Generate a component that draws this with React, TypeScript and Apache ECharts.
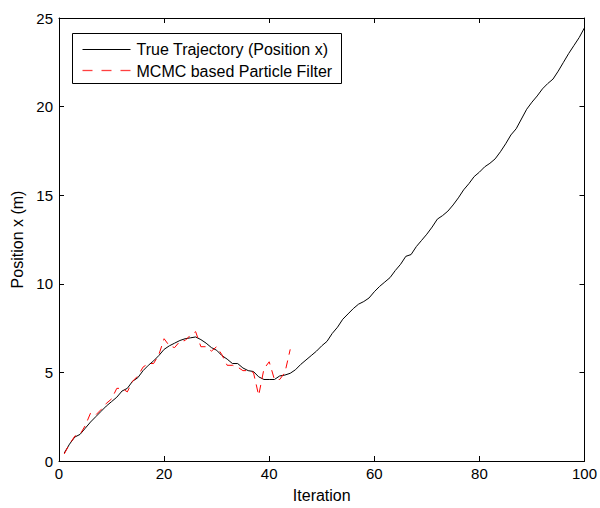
import React, { useEffect, useRef } from "react";
import * as echarts from "echarts";

const iterations: number[] = Array.from({ length: 100 }, (_, i) => i + 1);

const trueTrajectory: number[] = [
  0.45, 0.95, 1.35, 1.5, 1.85, 2.2, 2.5, 2.8, 3.1, 3.35,
  3.6, 3.95, 4.1, 4.5, 4.7, 5.1, 5.4, 5.65, 5.95, 6.3,
  6.5, 6.65, 6.8, 6.9, 6.95, 7.0, 6.85, 6.65, 6.4, 6.25,
  5.95, 5.75, 5.5, 5.5, 5.25, 5.1, 5.05, 4.75, 4.6, 4.6,
  4.6, 4.8, 4.85, 4.95, 5.15, 5.45, 5.7, 5.95, 6.2, 6.5,
  6.75, 7.2, 7.55, 8.0, 8.3, 8.6, 8.85, 9.0, 9.2, 9.55,
  9.85, 10.1, 10.35, 10.75, 11.1, 11.55, 11.65, 12.1, 12.45, 12.8,
  13.2, 13.65, 13.85, 14.1, 14.45, 14.85, 15.3, 15.65, 16.05, 16.3,
  16.6, 16.8, 17.05, 17.45, 17.9, 18.4, 18.75, 19.3, 19.85, 20.25,
  20.6, 21.0, 21.3, 21.55, 22.0, 22.5, 23.0, 23.45, 23.9, 24.45,
];

const mcmcEstimate: number[] = [
  0.4, 0.95, 1.4, 1.5, 2.0, 2.7, 2.6, 2.9, 3.25, 3.5,
  4.1, 4.1, 3.9, 4.5, 4.8, 5.3, 5.5, 5.5, 6.0, 6.9,
  6.5, 6.4, 6.75, 6.8, 7.1, 7.3, 6.45, 6.45, 6.2, 6.45,
  6.0, 5.4, 5.4, 5.3, 5.1, 5.1, 5.0, 3.7, 5.2, 5.6,
  4.6, 4.6, 5.0, 6.3,
];

const xTicks = { min: 0, max: 100, interval: 20 };
const yTicks = { min: 0, max: 25, interval: 5 };

const seriesNames = ["True Trajectory (Position x)", "MCMC based Particle Filter"];
const axisNames = { x: "Iteration", y: "Position x (m)" };

const FONT = "'Liberation Sans', Arial, Helvetica, sans-serif";

export default function App() {
  const ref = useRef<HTMLDivElement>(null);

  useEffect(() => {
    if (!ref.current) return;
    const chart = echarts.init(ref.current, undefined, { renderer: "svg" });

    const axisCommon = {
      axisLine: { show: true, onZero: false, lineStyle: { color: "#000", width: 1 } },
      axisTick: { show: true, inside: true, length: 5, lineStyle: { color: "#000", width: 1 } },
      splitLine: { show: false },
    };

    const legendDashes = [
      [10, 20],
      [29, 39],
      [48, 58],
    ];

    const option: any = {
      animation: false,
      backgroundColor: "#fff",
      textStyle: { fontFamily: FONT },
      grid: { left: 59, right: 14, top: 18, bottom: 45, containLabel: false },
      xAxis: [
        {
          type: "value",
          position: "bottom",
          ...xTicks,
          ...axisCommon,
          axisLabel: { color: "#000", fontSize: 15, fontFamily: FONT, margin: 5 },
          name: axisNames.x,
          nameLocation: "middle",
          nameGap: 26,
          nameTextStyle: { color: "#000", fontSize: 16, fontFamily: FONT },
        },
        {
          type: "value",
          position: "top",
          ...xTicks,
          ...axisCommon,
          axisLabel: { show: false },
        },
      ],
      yAxis: [
        {
          type: "value",
          position: "left",
          ...yTicks,
          ...axisCommon,
          axisLabel: { color: "#000", fontSize: 15, fontFamily: FONT, margin: 6 },
          name: axisNames.y,
          nameLocation: "middle",
          nameGap: 28,
          nameTextStyle: { color: "#000", fontSize: 16, fontFamily: FONT },
        },
        {
          type: "value",
          position: "right",
          ...yTicks,
          ...axisCommon,
          axisLabel: { show: false },
        },
      ],
      series: [
        {
          name: seriesNames[0],
          type: "line",
          xAxisIndex: 0,
          yAxisIndex: 0,
          data: trueTrajectory.map((v, i) => [iterations[i], v]),
          symbol: "none",
          lineStyle: { color: "#000", width: 1 },
          z: 2,
        },
        {
          name: seriesNames[1],
          type: "line",
          xAxisIndex: 0,
          yAxisIndex: 0,
          data: mcmcEstimate.map((v, i) => [iterations[i], v]),
          symbol: "none",
          lineStyle: { color: "#ff0000", width: 1, type: [8, 6] },
          z: 3,
        },
      ],
      graphic: [
        {
          type: "group",
          left: 72,
          top: 33,
          children: [
            {
              type: "rect",
              shape: { x: 0, y: 0, width: 269, height: 50 },
              style: { fill: "#fff", stroke: "#000", lineWidth: 1 },
            },
            {
              type: "line",
              shape: { x1: 10, y1: 16, x2: 58, y2: 16 },
              style: { stroke: "#000", lineWidth: 1 },
            },
            ...legendDashes.map(([a, b]) => ({
              type: "line",
              shape: { x1: a, y1: 37, x2: b, y2: 37 },
              style: { stroke: "#ff4040", lineWidth: 1.3 },
            })),
            {
              type: "text",
              x: 64,
              y: 16,
              style: {
                text: seriesNames[0],
                fill: "#000",
                fontSize: 16,
                fontFamily: FONT,
                verticalAlign: "middle",
                align: "left",
              },
            },
            {
              type: "text",
              x: 64,
              y: 38,
              style: {
                text: seriesNames[1],
                fill: "#000",
                fontSize: 16,
                fontFamily: FONT,
                verticalAlign: "middle",
                align: "left",
              },
            },
          ],
        },
      ],
    };

    chart.setOption(option);
    return () => chart.dispose();
  }, []);

  return (
    <div
      ref={ref}
      style={{ position: "fixed", left: 0, top: 0, width: 600, height: 508, background: "#fff" }}
    />
  );
}
